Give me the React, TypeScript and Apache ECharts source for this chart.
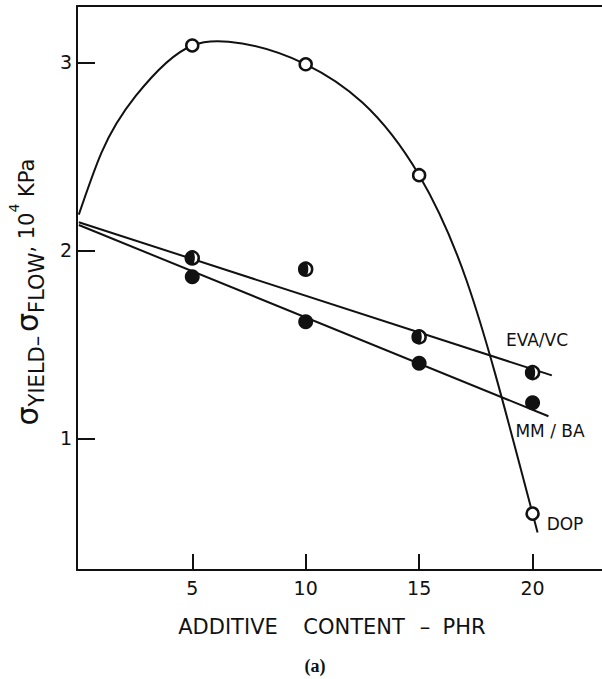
import React, { useEffect, useRef } from "react";
import * as echarts from "echarts";

// Additive content (phr) at which each blend was measured
const additive = [5, 10, 15, 20];
// Yield minus flow stress, 10^4 kPa
const dopValues = [3.09, 2.99, 2.4, 0.6];
const evaValues = [1.96, 1.9, 1.54, 1.35];
const mmValues = [1.86, 1.62, 1.4, 1.19];

// Hand-drawn fit through the DOP results
const dopCurveX = [0, 1.0, 2.5, 5, 6.6, 10, 15, 17.09, 20, 20.22];
const dopCurveY = [2.19, 2.52, 2.82, 3.09, 3.11, 2.99, 2.4, 1.84, 0.6, 0.5];

// Straight-line fits for the EVA/VC and MM/BA blends
const evaFitX = [0, 20.85];
const evaFitY = [2.15, 1.335];
const mmFitX = [0, 20.7];
const mmFitY = [2.135, 1.118];

// Axis ticks
const xTicks = [5, 10, 15, 20];
const yTicks = [1, 2, 3];

const INK = "#111";
const FONT = "DejaVu Sans";

// Left half (plus a bulge) of a disc, used to shade the EVA/VC markers
const halfDisc = "path://M10,0 A10,10 0 0,0 10,20 A4,10 0 0,0 10,0 Z";

const pairs = (xs: number[], ys: number[]) => xs.map((x, i) => [x, ys[i]]);

// Natural cubic spline y(x) through pixel points, written as cubic Béziers
function splinePath(pts: number[][]): string {
  const n = pts.length;
  const x = pts.map((p) => p[0]);
  const y = pts.map((p) => p[1]);
  const h: number[] = [];
  for (let i = 0; i < n - 1; i++) h.push(x[i + 1] - x[i]);
  // Solve for second derivatives (natural end conditions)
  const M = new Array(n).fill(0);
  const a = new Array(n).fill(0), b = new Array(n).fill(1), c = new Array(n).fill(0), r = new Array(n).fill(0);
  for (let i = 1; i < n - 1; i++) {
    a[i] = h[i - 1];
    b[i] = 2 * (h[i - 1] + h[i]);
    c[i] = h[i];
    r[i] = 6 * ((y[i + 1] - y[i]) / h[i] - (y[i] - y[i - 1]) / h[i - 1]);
  }
  for (let i = 1; i < n; i++) {
    const w = a[i] / b[i - 1];
    b[i] -= w * c[i - 1];
    r[i] -= w * r[i - 1];
  }
  M[n - 1] = r[n - 1] / b[n - 1];
  for (let i = n - 2; i >= 0; i--) M[i] = (r[i] - c[i] * M[i + 1]) / b[i];
  let d = `M${x[0]},${y[0]}`;
  for (let i = 0; i < n - 1; i++) {
    const s = (y[i + 1] - y[i]) / h[i];
    const m0 = s - (h[i] * (2 * M[i] + M[i + 1])) / 6;
    const m1 = s + (h[i] * (M[i] + 2 * M[i + 1])) / 6;
    const k = h[i] / 3;
    d += ` C${x[i] + k},${y[i] + m0 * k} ${x[i + 1] - k},${y[i + 1] - m1 * k} ${x[i + 1]},${y[i + 1]}`;
  }
  return d;
}

export default function App() {
  const ref = useRef<HTMLDivElement>(null);

  useEffect(() => {
    if (!ref.current) return;
    const chart = echarts.init(ref.current, null, { renderer: "svg" });

    const lineStyle = { color: INK, width: 2 };
    const word = (text: string, x: number, align: string) => ({
      type: "text",
      x,
      y: 627,
      style: { text, fontSize: 21, fontFamily: FONT, fill: INK, align, verticalAlign: "middle" },
    });

    chart.setOption({
      animation: false,
      backgroundColor: "#fff",
      grid: { left: 77, top: 6, right: 0, bottom: 109 },
      xAxis: [
        {
          type: "value",
          min: -0.08,
          max: 23.06,
          axisLine: { show: true, onZero: false, lineStyle: { color: INK, width: 2 } },
          axisTick: {
            show: true,
            inside: true,
            length: 16,
            customValues: xTicks,
            lineStyle: { color: INK, width: 2 },
          },
          axisLabel: {
            show: true,
            customValues: xTicks,
            color: INK,
            fontFamily: FONT,
            fontSize: 19,
            margin: 8,
          },
          splitLine: { show: false },
        },
        {
          type: "value",
          position: "top",
          min: -0.08,
          max: 23.06,
          axisLine: { show: true, onZero: false, lineStyle: { color: INK, width: 2 } },
          axisTick: { show: false },
          axisLabel: { show: false },
          splitLine: { show: false },
        },
      ],
      yAxis: {
        type: "value",
        min: 0.3,
        max: 3.3,
        axisLine: { show: true, onZero: false, lineStyle: { color: INK, width: 2 } },
        axisTick: {
          show: true,
          inside: true,
          length: 18,
          customValues: yTicks,
          lineStyle: { color: INK, width: 2 },
        },
        axisLabel: {
          show: true,
          customValues: yTicks,
          color: INK,
          fontFamily: FONT,
          fontSize: 19,
          margin: 5,
        },
        splitLine: { show: false },
      },
      series: [
        {
          name: "DOP fit",
          type: "custom",
          data: [[dopCurveX[0], dopCurveY[0]]],
          renderItem: (_params: any, api: any) => {
            const pts = dopCurveX.map((x, i) => api.coord([x, dopCurveY[i]]));
            return {
              type: "path",
              shape: { pathData: splinePath(pts) },
              style: { fill: "none", stroke: INK, lineWidth: 2 },
            };
          },
          z: 2,
        },
        {
          name: "EVA/VC fit",
          type: "line",
          data: pairs(evaFitX, evaFitY),
          showSymbol: false,
          lineStyle,
          z: 2,
        },
        {
          name: "MM/BA fit",
          type: "line",
          data: pairs(mmFitX, mmFitY),
          showSymbol: false,
          lineStyle,
          z: 2,
        },
        {
          name: "DOP",
          type: "scatter",
          data: pairs(additive, dopValues),
          symbol: "circle",
          symbolSize: 12,
          itemStyle: { color: "#fff", borderColor: INK, borderWidth: 2.5, opacity: 1 },
          z: 3,
        },
        {
          name: "EVA/VC",
          type: "scatter",
          data: pairs(additive, evaValues),
          symbol: "circle",
          symbolSize: 13,
          itemStyle: { color: "#fff", borderColor: INK, borderWidth: 2.5, opacity: 1 },
          z: 3,
        },
        {
          name: "EVA/VC shade",
          type: "scatter",
          data: pairs(additive, evaValues),
          symbol: halfDisc,
          symbolSize: [9.1, 13],
          symbolOffset: [-1.95, 0],
          itemStyle: { color: INK, opacity: 1 },
          z: 4,
        },
        {
          name: "MM/BA",
          type: "scatter",
          data: pairs(additive, mmValues),
          symbol: "circle",
          symbolSize: 15,
          itemStyle: { color: INK, opacity: 1 },
          z: 3,
        },
      ],
      graphic: [
        {
          type: "text",
          x: 27,
          y: 292,
          rotation: Math.PI / 2,
          style: {
            text: "{s|σ}{sub|YIELD–} {s|σ}{sub|FLOW}{n|, 10}{sup|4}{n| KPa}",
            align: "center",
            verticalAlign: "middle",
            lineHeight: 40,
            fill: INK,
            fontFamily: FONT,
            rich: {
              s: { fontSize: 30, fontFamily: FONT, fill: INK },
              sub: { fontSize: 21, fontFamily: FONT, fill: INK, lineHeight: 16, verticalAlign: "bottom" },
              n: { fontSize: 21, fontFamily: FONT, fill: INK },
              sup: { fontSize: 14, fontFamily: FONT, fill: INK, lineHeight: 18, verticalAlign: "top" },
            },
          },
        },
        word("ADDITIVE", 228, "center"),
        word("CONTENT", 354, "center"),
        word("–", 425, "center"),
        word("PHR", 464, "center"),
        {
          type: "text",
          x: 315,
          y: 666,
          style: {
            text: "(a)",
            fontSize: 18,
            fontWeight: "bold",
            fontFamily: "Liberation Serif",
            fill: INK,
            align: "center",
            verticalAlign: "middle",
          },
        },
        {
          type: "text",
          x: 537,
          y: 340,
          style: { text: "EVA/VC", fontSize: 17, fontFamily: FONT, fill: INK, align: "center", verticalAlign: "middle" },
        },
        {
          type: "text",
          x: 550,
          y: 431,
          style: { text: "MM / BA", fontSize: 17, fontFamily: FONT, fill: INK, align: "center", verticalAlign: "middle" },
        },
        {
          type: "text",
          x: 565,
          y: 524,
          style: { text: "DOP", fontSize: 17, fontFamily: FONT, fill: INK, align: "center", verticalAlign: "middle" },
        },
      ],
    });

    return () => chart.dispose();
  }, []);

  return (
    <div
      ref={ref}
      style={{ position: "absolute", left: 0, top: 0, width: 602, height: 679, background: "#fff" }}
    />
  );
}
